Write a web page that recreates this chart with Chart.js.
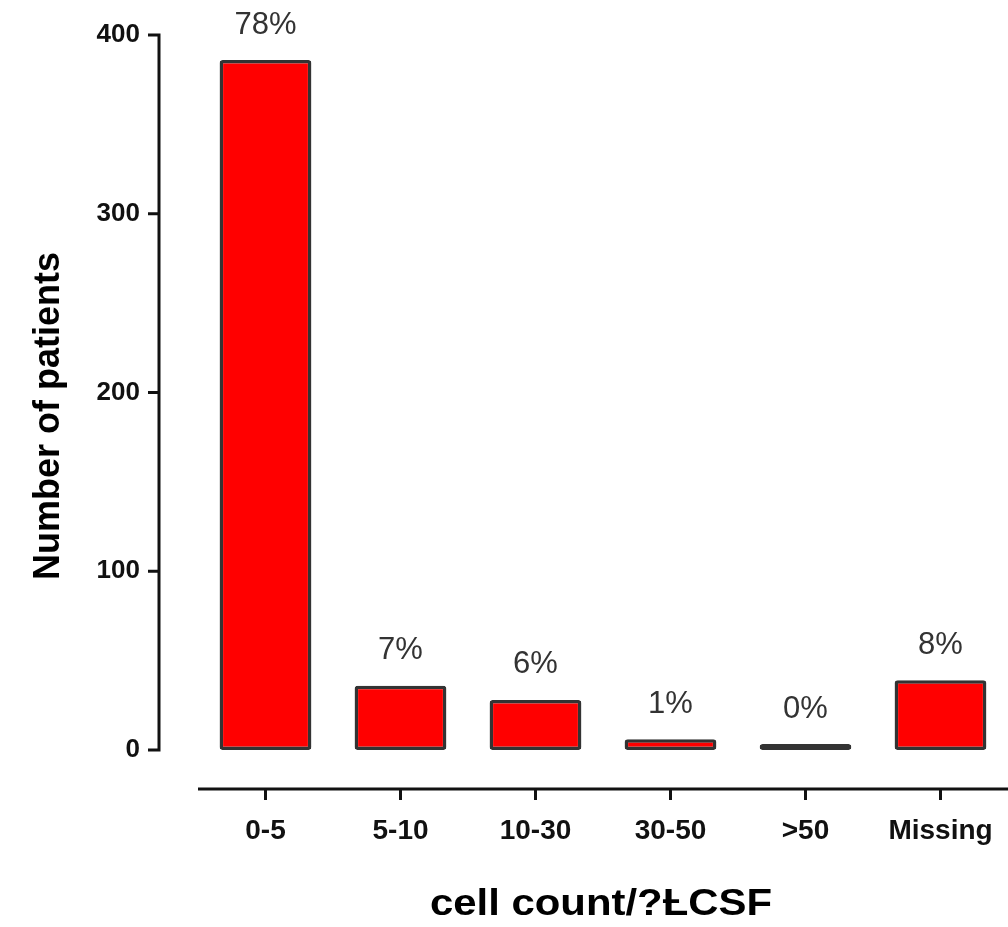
<!DOCTYPE html>
<html>
<head>
<meta charset="utf-8">
<title>Patients by CSF cell count</title>
<script src="https://cdn.jsdelivr.net/npm/chart.js@4.4.1/dist/chart.umd.min.js"></script>
<style>
  html, body { margin: 0; padding: 0; background: #fff; }
  #wrap { width: 1008px; height: 927px; position: relative; }
</style>
</head>
<body>
<div id="wrap"><canvas id="cellChart"></canvas></div>
<script>
// Data
const categories = ['0-5', '5-10', '10-30', '30-50', '>50', 'Missing'];
const patientCounts = [386, 36, 28, 6, 1, 39];
const percentLabels = ['78%', '7%', '6%', '1%', '0%', '8%'];
const yTicks = [0, 100, 200, 300, 400];

const FONT = '"Liberation Sans", Arial, Helvetica, sans-serif';
const INK = '#111';

// GraphPad-style detached axes, percent labels and axis titles
const detachedAxes = {
    id: 'detachedAxes',
    afterDraw(chart) {
        const { ctx, chartArea, scales: { x, y } } = chart;
        const yTop = y.getPixelForValue(yTicks[yTicks.length - 1]);
        const yBottom = y.getPixelForValue(yTicks[0]);
        const axisX = chartArea.left - 39;
        const axisY = chartArea.bottom + 39;

        ctx.save();
        ctx.strokeStyle = INK;
        ctx.lineWidth = 3;

        // y axis with ticks
        ctx.beginPath();
        ctx.moveTo(axisX - 11, yTop);
        ctx.lineTo(axisX, yTop);
        ctx.lineTo(axisX, yBottom);
        ctx.lineTo(axisX - 11, yBottom);
        yTicks.slice(1, -1).forEach(v => {
            const py = y.getPixelForValue(v);
            ctx.moveTo(axisX - 11, py);
            ctx.lineTo(axisX, py);
        });
        ctx.stroke();

        // x axis with ticks at category centres
        ctx.beginPath();
        ctx.moveTo(chartArea.left, axisY);
        ctx.lineTo(chartArea.right, axisY);
        categories.forEach((c, i) => {
            const px = x.getPixelForTick(i);
            ctx.moveTo(px, axisY);
            ctx.lineTo(px, axisY + 11);
        });
        ctx.stroke();

        // percent above each bar
        ctx.fillStyle = '#333';
        ctx.font = '31px ' + FONT;
        ctx.textAlign = 'center';
        ctx.textBaseline = 'middle';
        chart.getDatasetMeta(0).data.forEach((bar, i) => {
            ctx.fillText(percentLabels[i], bar.x, bar.y - 35);
        });

        // axis titles (x title is set wide in the original)
        ctx.fillStyle = '#000';
        ctx.textBaseline = 'alphabetic';
        ctx.font = 'bold 36px ' + FONT;
        const xTitle = 'cell count/?\u023DCSF';
        const stretch = 342 / ctx.measureText(xTitle).width;
        ctx.save();
        ctx.translate(601, 915);
        ctx.scale(stretch, 1);
        ctx.fillText(xTitle, 0, 0);
        ctx.restore();

        ctx.font = 'bold 36px ' + FONT;
        ctx.translate(59, 416);
        ctx.rotate(-Math.PI / 2);
        ctx.fillText('Number of patients', 0, 0);
        ctx.restore();
    }
};

const ctx = document.getElementById('cellChart');

new Chart(ctx, {
    type: 'bar',
    data: {
        labels: categories,
        datasets: [{
            label: 'Number of patients',
            data: patientCounts,
            backgroundColor: '#ff0000',
            borderColor: '#333',
            borderWidth: 3.5,
            borderRadius: 3,
            borderSkipped: false,
            minBarLength: 6,
            barPercentage: 0.68,
            categoryPercentage: 1
        }]
    },
    options: {
        responsive: true,
        maintainAspectRatio: false,
        animation: false,
        layout: {
            padding: { top: 35, right: 0, bottom: 0, left: 0 }
        },
        plugins: {
            legend: { display: false },
            tooltip: { enabled: false }
        },
        scales: {
            x: {
                grid: { display: false },
                border: { display: false },
                ticks: {
                    color: INK,
                    font: { family: FONT, size: 28, weight: 'bold' },
                    padding: 56,
                    maxRotation: 0,
                    autoSkip: false
                },
                afterFit: scale => {
                    scale.height = 177;
                    scale.paddingLeft = 0;
                    scale.paddingRight = 0;
                }
            },
            y: {
                min: 0,
                max: 400,
                afterBuildTicks: scale => {
                    scale.ticks = yTicks.map(v => ({ value: v }));
                },
                grid: { display: false },
                border: { display: false },
                ticks: {
                    color: INK,
                    font: { family: FONT, size: 26, weight: 'bold' },
                    padding: 50
                },
                afterFit: scale => {
                    scale.width = 198;
                    scale.paddingTop = 0;
                    scale.paddingBottom = 0;
                }
            }
        }
    },
    plugins: [detachedAxes]
});
</script>
</body>
</html>
